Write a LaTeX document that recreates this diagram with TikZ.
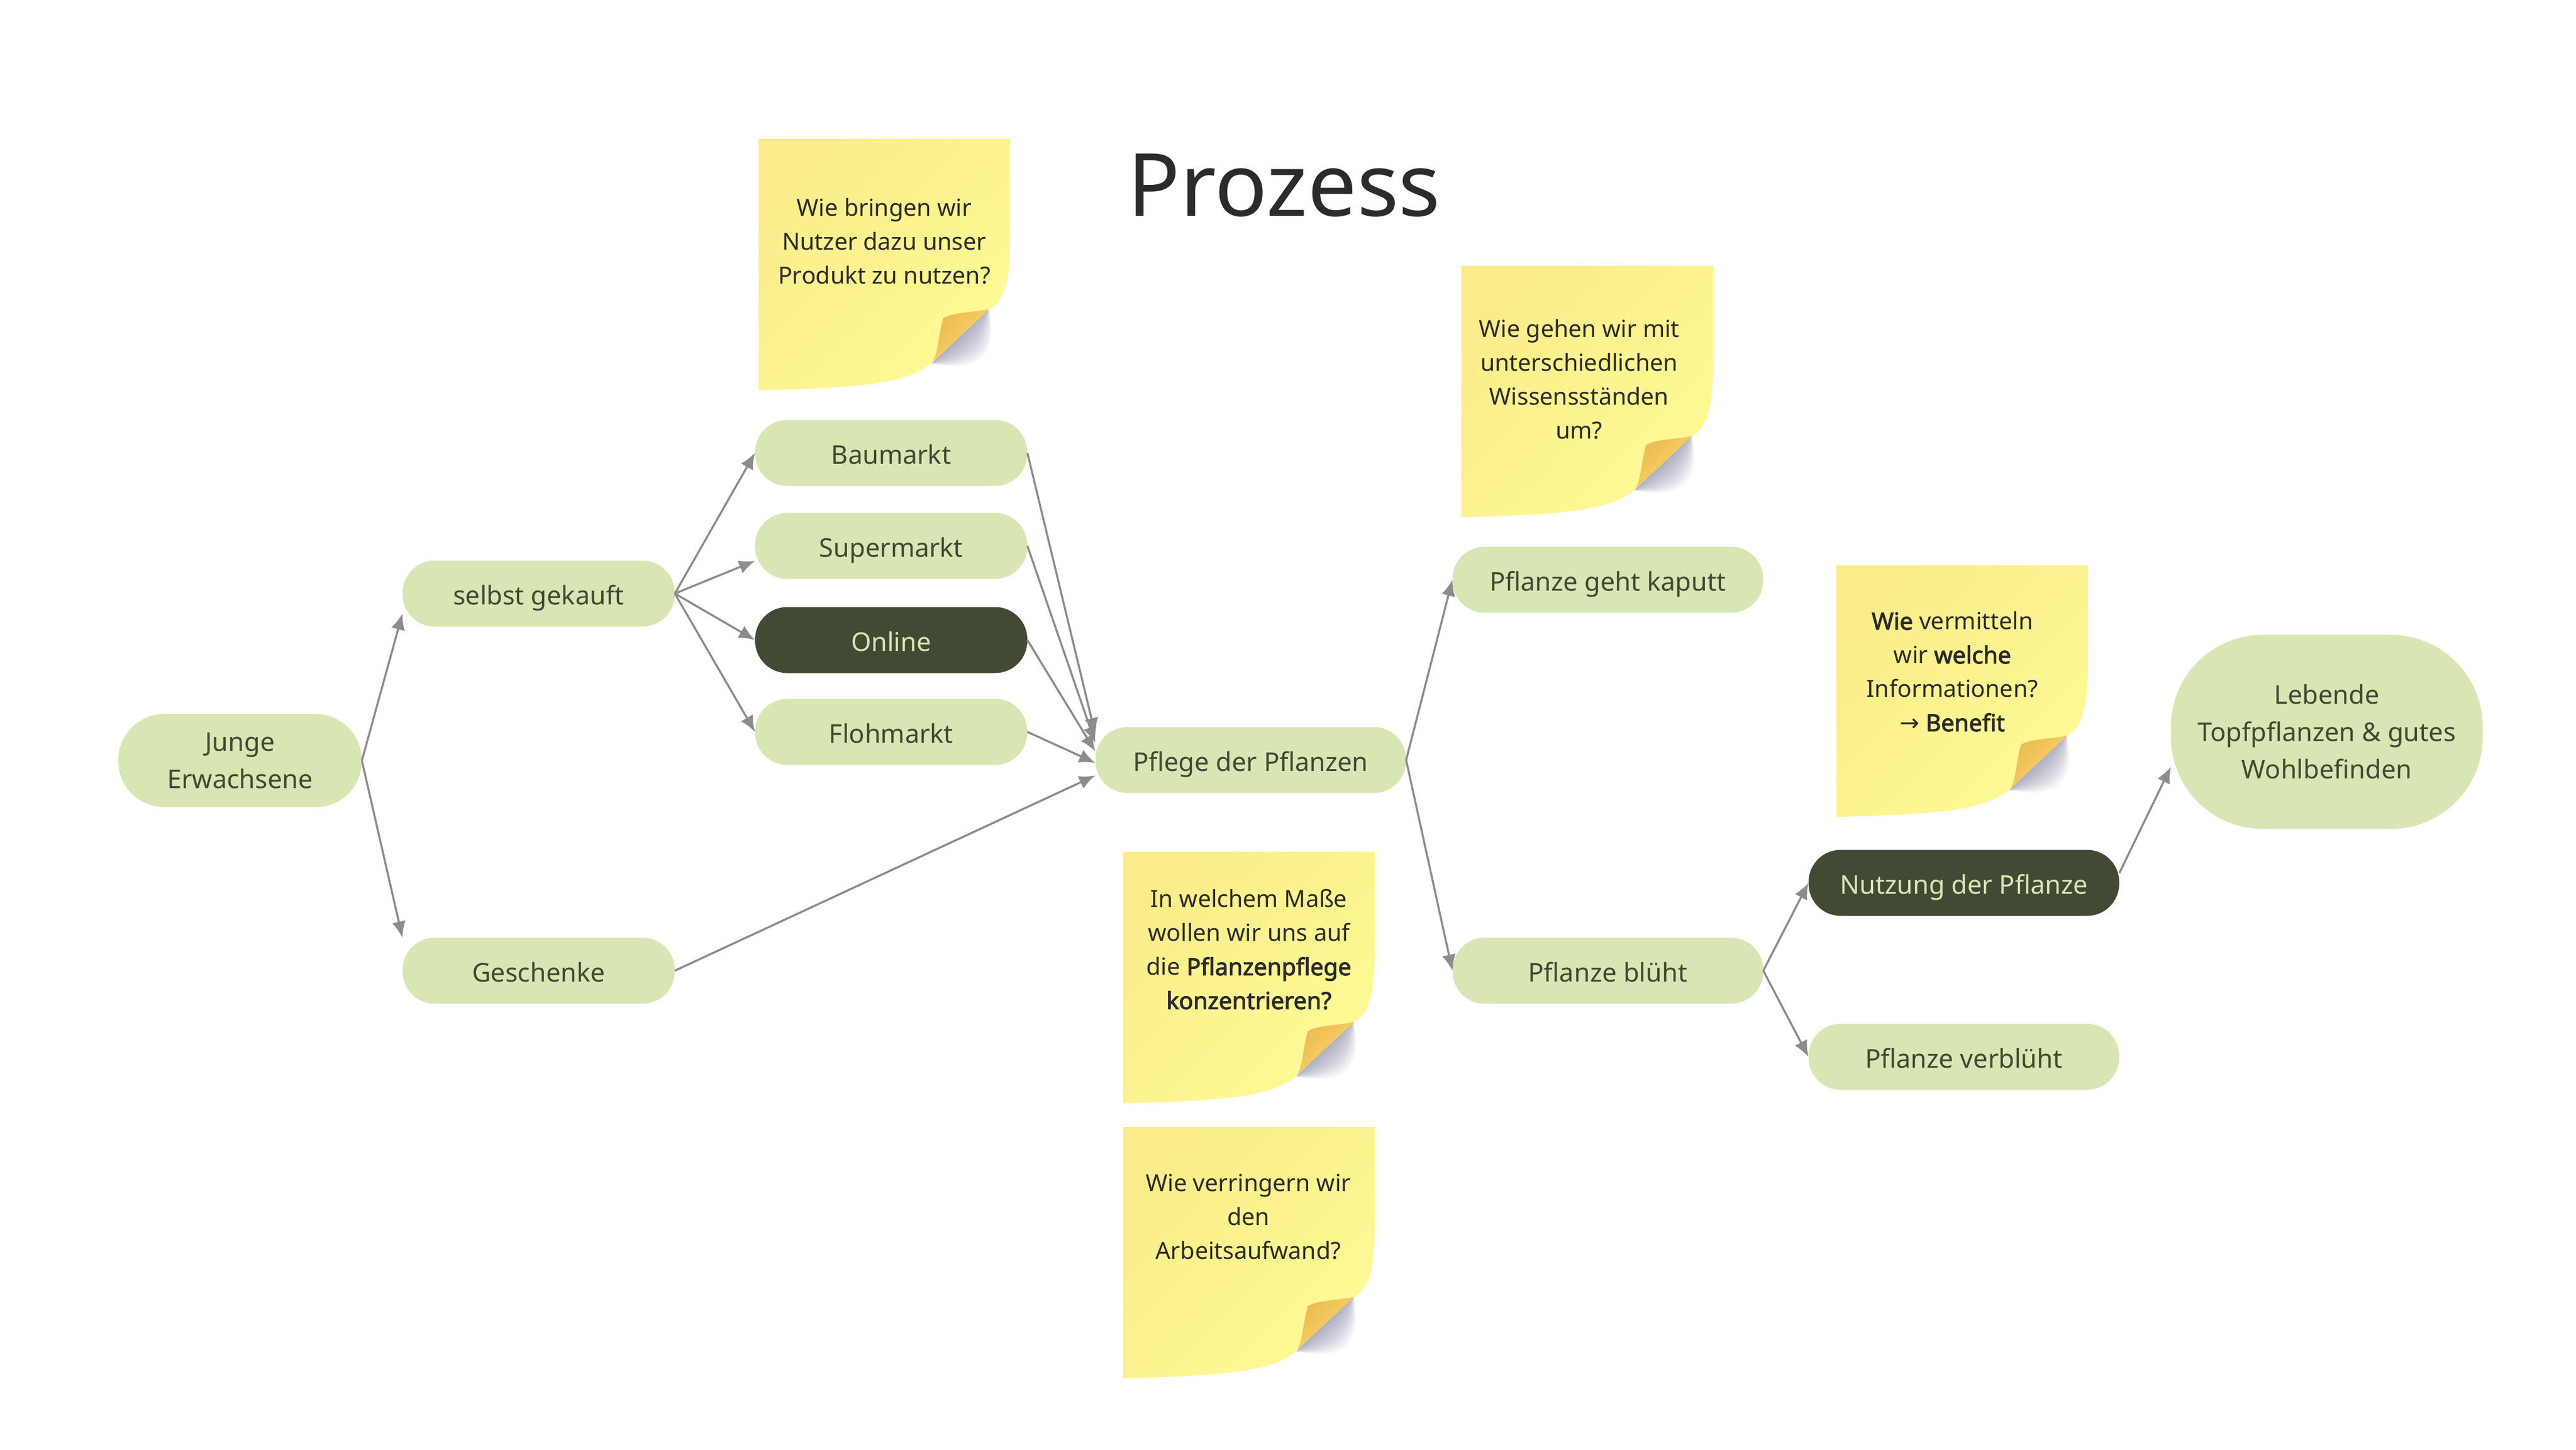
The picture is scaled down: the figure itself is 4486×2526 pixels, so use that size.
\documentclass[tikz,border=0pt]{standalone}
\usepackage{fontspec}
\setmainfont{Noto Sans}[AutoFakeBold=2.5]
\newfontfamily\arrowfont{DejaVu Sans}
\usetikzlibrary{arrows.meta}

\definecolor{leaf}{HTML}{D8E6B4}
\definecolor{leafink}{HTML}{404832}
\definecolor{moss}{HTML}{424A33}
\definecolor{wire}{HTML}{8C8C8C}
\definecolor{ink}{HTML}{2B2B2B}
\definecolor{notebase}{HTML}{FAEC8B}
\definecolor{notelight}{HTML}{FEFA96}
\definecolor{flapdark}{HTML}{EDB94F}
\definecolor{flaplight}{HTML}{F9DC72}
\definecolor{curlshade}{HTML}{4A4E78}

\tikzset{
  stage/.style={rectangle, rounded corners=56pt, fill=leaf, text=leafink,
    minimum width=474pt, minimum height=115pt, inner sep=0pt, align=center,
    text height=38pt, text depth=0pt,
    font=\fontsize{45}{65}\selectfont},
  focus/.style={stage, fill=moss, text=leaf},
  flow/.style={draw=wire, line width=3.5pt, arrows={-Latex[length=28pt, width=24pt]}},
  notetext/.style={align=center, text=ink, inner sep=0pt,
    font=\fontsize{41}{59}\selectfont}
}

% sticky note with curled corner, #1 = top left corner
\newcommand{\stickynote}[1]{%
  \begin{scope}[shift={#1}, x=438pt, y=-438pt]
    % shadow under the curl
    \foreach \b in {0.012,0.024,...,0.13}
      \fill[curlshade, opacity=0.05]
        (0.915,0.672) .. controls ({0.842+0.93*\b},{0.744+0.95*\b}) and ({0.768+0.93*\b},{0.817+0.95*\b}) .. (0.688,0.893) -- cycle;
    % paper
    \shade[top color=notebase, middle color=notebase, bottom color=notelight, shading angle=45]
      (0,0) -- (1,0) -- (1,0.39)
      .. controls (1,0.56) and (0.98,0.64) .. (0.918,0.677)
      .. controls (0.85,0.69) and (0.77,0.69) .. (0.734,0.713)
      .. controls (0.715,0.78) and (0.715,0.84) .. (0.693,0.886)
      .. controls (0.6,0.975) and (0.4,0.99) .. (0,1) -- cycle;
    % folded flap
    \shade[top color=flapdark, bottom color=flaplight, shading angle=45]
      (0.734,0.713) .. controls (0.77,0.69) and (0.85,0.69) .. (0.918,0.677)
      -- (0.693,0.886)
      .. controls (0.715,0.84) and (0.715,0.78) .. (0.734,0.713) -- cycle;
  \end{scope}}

\begin{document}
\begin{tikzpicture}[x=1pt, y=-1pt]
  % Draw canvas.
  \fill[white] (0,0) rectangle (4486,2526);
  \useasboundingbox (0,0) rectangle (4486,2526);

  % Draw title.
  \node[text=ink, anchor=base, inner sep=0pt, font=\fontsize{152}{180}\selectfont] (title) at (2236,376) {Prozess};

  % Draw sticky notes.
  \stickynote{(1321,242)}
  \stickynote{(2545,463)}
  \stickynote{(3198,985)}
  \stickynote{(1956,1484)}
  \stickynote{(1956,1963)}

  \node[notetext] (q1) at (1540,420) {Wie bringen wir\\Nutzer dazu unser\\Produkt zu nutzen?};
  \node[notetext] (q2) at (2750,661) {Wie gehen wir mit\\unterschiedlichen\\Wissensständen\\um?};
  \node[notetext] (q3) at (3400,1170) {\textbf{Wie} vermitteln\\wir \textbf{welche}\\Informationen?\\{\arrowfont →} \textbf{Benefit}};
  \node[notetext] (q4) at (2175,1654) {In welchem Maße\\wollen wir uns auf\\die \textbf{Pflanzenpflege}\\\textbf{konzentrieren?}};
  \node[notetext] (q5) at (2174,2120) {Wie verringern wir\\den\\Arbeitsaufwand?};

  % Draw stages.
  \node[stage, text height={}, text depth={}, minimum width=424pt, minimum height=162pt, rounded corners=80pt] (junge) at (418,1325) {Junge\\Erwachsene};
  \node[stage] (selbst) at (938,1034) {selbst gekauft};
  \node[stage] (gesch) at (938,1691) {Geschenke};
  \node[stage] (baum) at (1552,789) {Baumarkt};
  \node[stage] (super) at (1552,951) {Supermarkt};
  \node[focus] (online) at (1552,1115) {Online};
  \node[stage] (floh) at (1552,1275) {Flohmarkt};
  \node[stage, minimum width=541pt] (pflege) at (2178,1324) {Pflege der Pflanzen};
  \node[stage, minimum width=541pt] (kaputt) at (2800,1010) {Pflanze geht kaputt};
  \node[stage, minimum width=541pt] (blueht) at (2800,1691) {Pflanze blüht};
  \node[focus, minimum width=541pt] (nutzung) at (3420,1538) {Nutzung der Pflanze};
  \node[stage, minimum width=541pt] (verbl) at (3420,1841) {Pflanze verblüht};
  \node[stage, text height={}, text depth={}, minimum width=543pt, minimum height=338pt, rounded corners=160pt] (leben) at (4052,1275) {Lebende\\Topfpflanzen \& gutes\\Wohlbefinden};

  % Draw connectors.
  \draw[flow] (junge.east) -- ([yshift=-35pt]selbst.west);
  \draw[flow] (junge.east) -- (gesch.north west);
  \draw[flow] (selbst.east) -- (baum.west);
  \draw[flow] (selbst.east) -- ([yshift=-26pt]super.west);
  \draw[flow] (selbst.east) -- (online.west);
  \draw[flow] (selbst.east) -- (floh.west);
  \draw[flow] (baum.east) -- ([yshift=45pt]pflege.west);
  \draw[flow] (super.east) -- ([yshift=30pt]pflege.west);
  \draw[flow] (online.east) -- ([yshift=15pt]pflege.west);
  \draw[flow] (floh.east) -- ([yshift=-5pt]pflege.west);
  \draw[flow] (gesch.east) -- ([yshift=-27pt]pflege.west);
  \draw[flow] (pflege.east) -- (kaputt.west);
  \draw[flow] (pflege.east) -- (blueht.west);
  \draw[flow] (blueht.east) -- (nutzung.west);
  \draw[flow] (blueht.east) -- (verbl.west);
  \draw[flow] ([yshift=17pt]nutzung.east) -- ([yshift=-61pt]leben.west);
\end{tikzpicture}
\end{document}
